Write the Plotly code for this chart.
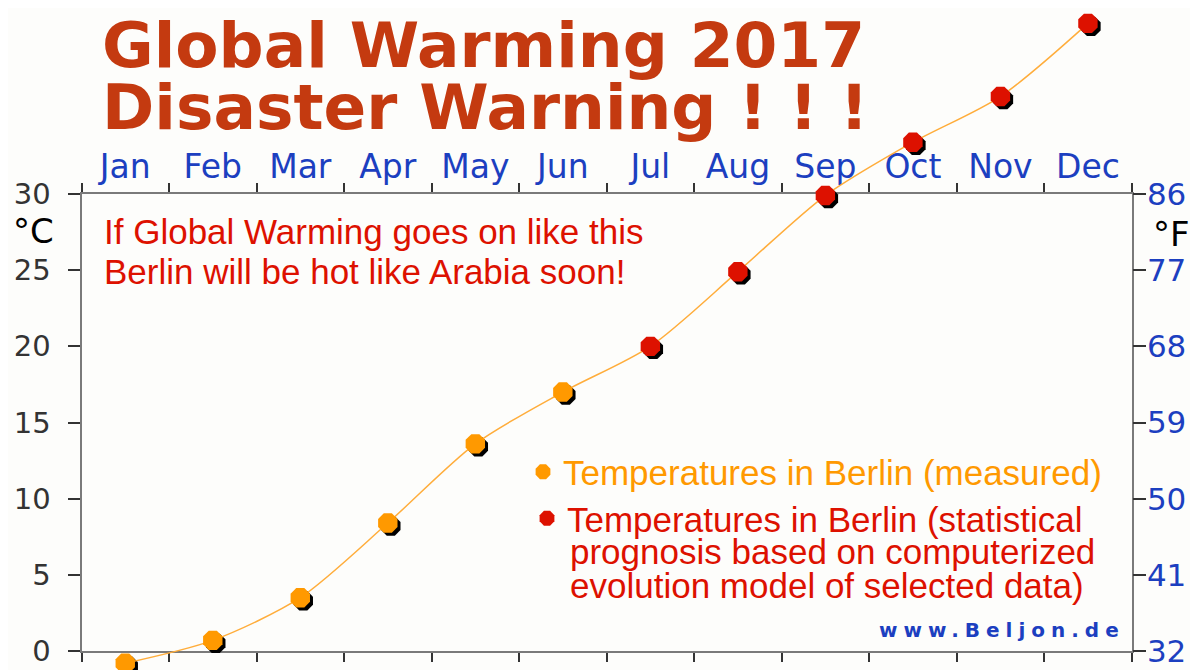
import plotly.graph_objects as go

# ---------------- data ----------------
months = ["Jan", "Feb", "Mar", "Apr", "May", "Jun",
          "Jul", "Aug", "Sep", "Oct", "Nov", "Dec"]
measured_months = months[:6]
measured_temps = [-0.8, 0.7, 3.5, 8.4, 13.6, 17.0]
prognosis_months = months[6:]
prognosis_temps = [20.0, 24.9, 29.9, 33.4, 36.4, 41.2]
celsius_ticks = [0, 5, 10, 15, 20, 25, 30]
celsius_labels = ["0", "5", "10", "15", "20", "25", "30"]
fahrenheit_labels = ["32", "41", "50", "59", "68", "77", "86"]
month_bounds = [i - 0.5 for i in range(13)]

all_months = measured_months + prognosis_months
all_temps = measured_temps + prognosis_temps

# ---------------- layout geometry (page pixels) ----------------
W, H = 1198, 670          # browser window
OFF = 8                   # default body margin of the page
FW, FH = W - OFF, H - OFF  # figure size so that it ends at the window edge
L_PX, R_PX = 81.5, 1131.7
TOP_PX, BOT_PX = 194, 651
SHADOW = 3


def px(xp):
    return (xp - OFF) / FW


def py(yp):
    return (H - yp) / FH


mw = (R_PX - L_PX) / 12.0
k = (BOT_PX - TOP_PX) / 30.0
x_full = [-0.5 - (L_PX - OFF) / mw, -0.5 + (W - L_PX) / mw]
y_full = [-(H - BOT_PX) / k, 30 + (TOP_PX - OFF) / k]
sx, sy = SHADOW / mw, SHADOW / k
box_x = [px(L_PX), px(R_PX)]
box_y = [py(BOT_PX), py(TOP_PX)]

BG = "#fdfdfb"
BLUE = "#1c3fc0"
RED = "#dd1100"
ORANGE = "#ff9900"
LINE_ORANGE = "#ffad3b"
TITLE = "#c43a10"
AXIS = "#7a7a7a"

fig = go.Figure()

# decorative box axes need a trace to exist
fig.add_trace(go.Scatter(x=[], y=[], xaxis="x", yaxis="y", showlegend=False, hoverinfo="skip"))
fig.add_trace(go.Scatter(x=[], y=[], xaxis="x2", yaxis="y", showlegend=False, hoverinfo="skip"))
fig.add_trace(go.Scatter(x=[], y=[], xaxis="x", yaxis="y2", showlegend=False, hoverinfo="skip"))

# shadows (black, offset by shifted axis ranges)
fig.add_trace(go.Scatter(
    x=all_months, y=all_temps, xaxis="x3", yaxis="y3", mode="markers",
    marker=dict(symbol="octagon", size=21, color="#000000", line=dict(width=0)),
    showlegend=False, hoverinfo="skip"))

# curve
fig.add_trace(go.Scatter(
    x=all_months, y=all_temps, xaxis="x4", yaxis="y4", mode="lines",
    line=dict(color=LINE_ORANGE, width=1.5, shape="spline", smoothing=0.8),
    showlegend=False, hoverinfo="skip"))

fig.add_trace(go.Scatter(
    x=measured_months, y=measured_temps, xaxis="x4", yaxis="y4", mode="markers",
    marker=dict(symbol="octagon", size=21, color=ORANGE, line=dict(width=0)),
    name="Temperatures in Berlin (measured)", legend="legend"))

fig.add_trace(go.Scatter(
    x=prognosis_months, y=prognosis_temps, xaxis="x4", yaxis="y4", mode="markers",
    marker=dict(symbol="octagon", size=21, color=RED, line=dict(width=0)),
    name="Temperatures in Berlin (statistical", legend="legend2"))

tickfont_left = dict(family="DejaVu Sans", size=29, color="#333333")

fig.update_layout(
    width=FW, height=FH,
    margin=dict(l=0, r=0, t=0, b=0, pad=0, autoexpand=False),
    paper_bgcolor=BG, plot_bgcolor="rgba(0,0,0,0)",
    showlegend=True,
    xaxis=dict(domain=box_x, range=[-0.5, 11.5], anchor="y", showgrid=False, zeroline=False,
               showline=True, linecolor=AXIS, linewidth=2, mirror="ticks",
               tickmode="array", tickvals=month_bounds, ticks="outside", ticklen=9,
               tickwidth=1.5, tickcolor="#333333", showticklabels=False,
               automargin=False, fixedrange=True),
    yaxis=dict(domain=box_y, range=[0, 30], anchor="x", showgrid=False, zeroline=False,
               showline=True, linecolor=AXIS, linewidth=2, mirror="ticks",
               tickmode="array", tickvals=celsius_ticks, ticktext=celsius_labels,
               ticks="outside", ticklen=12, tickwidth=1.5, tickcolor="#333333",
               tickfont=tickfont_left, ticklabelstandoff=11, automargin=False,
               ticklabeloverflow="allow", fixedrange=True),
    xaxis2=dict(overlaying="x", side="top", anchor="y", range=[-0.5, 11.5],
                showgrid=False, zeroline=False, showline=False, ticks="",
                tickmode="array", tickvals=list(range(12)), ticktext=months,
                tickfont=dict(family="DejaVu Sans", size=33, color=BLUE),
                ticklabelstandoff=8, automargin=False, fixedrange=True),
    yaxis2=dict(overlaying="y", side="right", anchor="x", range=[0, 30],
                showgrid=False, zeroline=False, showline=False, ticks="outside",
                ticklen=12, tickwidth=1.5, tickcolor="#333333",
                tickmode="array", tickvals=celsius_ticks, ticktext=fahrenheit_labels,
                tickfont=dict(family="DejaVu Sans", size=31, color=BLUE),
                ticklabelstandoff=-4, ticklabeloverflow="allow",
                automargin=False, fixedrange=True),
    xaxis3=dict(domain=[0, 1], anchor="y3", type="category", categoryorder="array",
                categoryarray=months, range=[x_full[0] - sx, x_full[1] - sx],
                visible=False, automargin=False, fixedrange=True),
    yaxis3=dict(domain=[0, 1], anchor="x3", range=[y_full[0] + sy, y_full[1] + sy],
                visible=False, automargin=False, fixedrange=True),
    xaxis4=dict(overlaying="x3", anchor="y4", type="category", categoryorder="array",
                categoryarray=months, range=x_full, visible=False, automargin=False,
                fixedrange=True),
    yaxis4=dict(overlaying="y3", anchor="x4", range=y_full, visible=False,
                automargin=False, fixedrange=True),
    legend=dict(x=px(523), y=py(442.5), xanchor="left", yanchor="top",
                bgcolor="rgba(0,0,0,0)", itemsizing="trace",
                font=dict(family="Liberation Sans, Arial", size=35, color=ORANGE)),
    legend2=dict(x=px(527), y=py(489), xanchor="left", yanchor="top",
                 bgcolor="rgba(0,0,0,0)", itemsizing="trace",
                 font=dict(family="Liberation Sans, Arial", size=35, color=RED)),
)

title_font = dict(family="DejaVu Sans", size=63, color=TITLE, weight="bold")
red_font = dict(family="Liberation Sans, Arial", size=35, color=RED)
ann = [
    dict(text="Global Warming 2017", x=px(101), y=py(45), font=title_font),
    dict(text="Disaster Warning ! ! !", x=px(101), y=py(107), font=title_font),
    dict(text="If Global Warming goes on like this", x=px(103), y=py(231), font=red_font),
    dict(text="Berlin will be hot like Arabia soon!", x=px(103), y=py(271), font=red_font),
    dict(text="prognosis based on computerized", x=px(569), y=py(551), font=red_font),
    dict(text="evolution model of selected data)", x=px(569), y=py(585), font=red_font),
    dict(text="°C", x=px(33), y=py(231), xanchor="center",
         font=dict(family="DejaVu Sans", size=34, color="#000000")),
    dict(text="°F", x=px(1171), y=py(234), xanchor="center",
         font=dict(family="DejaVu Sans", size=34, color="#000000")),
]
for a in ann:
    a.setdefault("xanchor", "left")
    fig.add_annotation(xref="paper", yref="paper", yanchor="middle", showarrow=False,
                       borderpad=0, **a)

fig.add_annotation(text='<span style="letter-spacing:6px">www.Beljon.de</span>',
                   xref="paper", yref="paper", x=px(1126),
                   y=py(630), xanchor="right", yanchor="middle", showarrow=False,
                   borderpad=0,
                   font=dict(family="DejaVu Sans", size=20, color=BLUE, weight="bold"))

fig.write_html("out.html")
